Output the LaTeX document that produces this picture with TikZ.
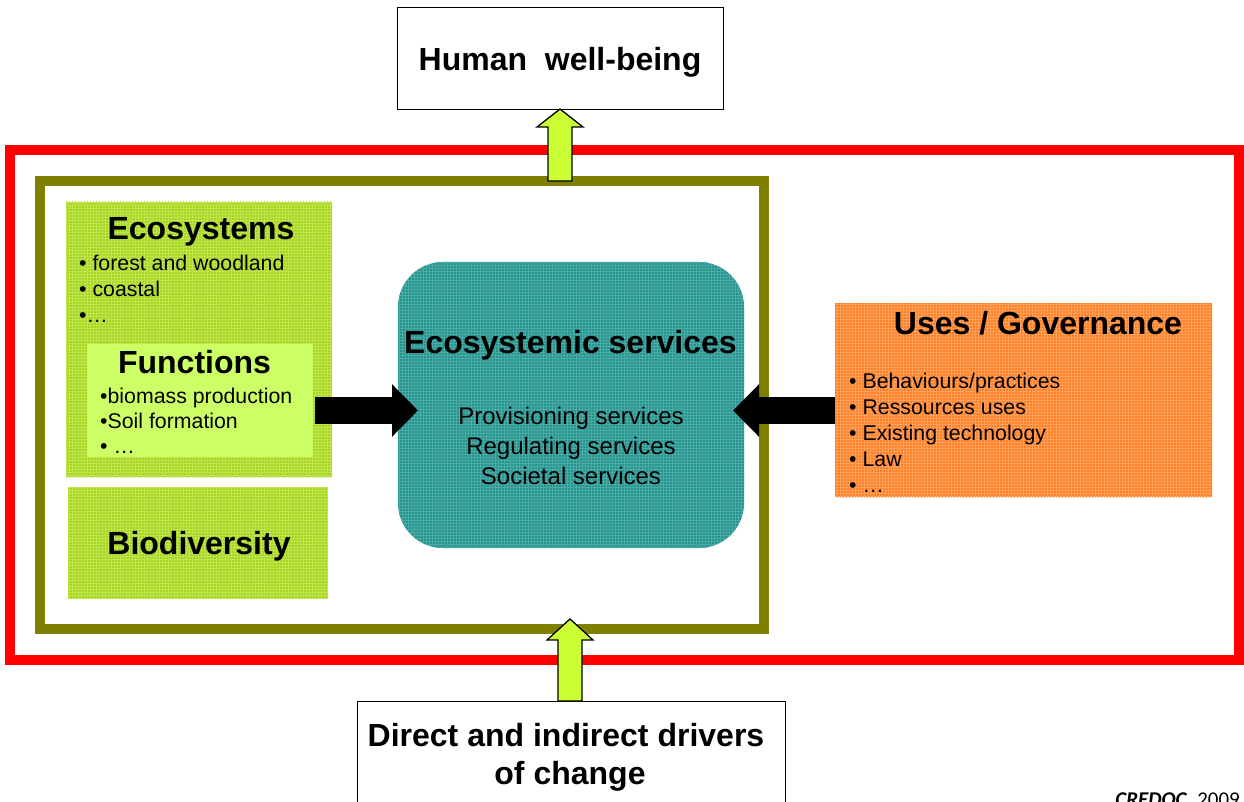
\documentclass[tikz,border=0pt]{standalone}
\usepackage{fontspec}
\setmainfont{Liberation Sans}
\newfontfamily\credfont{Carlito}
\usetikzlibrary{arrows.meta,calc,patterns}
\definecolor{frameolive}{RGB}{128,128,0}
\definecolor{framered}{RGB}{255,0,0}
\definecolor{ecogreen}{RGB}{168,214,30}
\definecolor{ecogreenl}{RGB}{190,228,80}
\definecolor{funcgreen}{RGB}{204,255,102}
\definecolor{servteal}{RGB}{36,148,143}
\definecolor{servteall}{RGB}{75,170,165}
\definecolor{useorange}{RGB}{255,128,36}
\definecolor{useorangel}{RGB}{255,160,90}
\definecolor{arrowgreen}{RGB}{204,255,51}
\tikzset{
  frame/.style={rectangle, inner sep=0pt, outer sep=0pt},
  box/.style={rectangle, inner sep=0pt, outer sep=0pt},
  hd/.style={font=\bfseries\fontsize{32}{38}\selectfont, inner sep=0pt, anchor=base},
  bl/.style={font=\fontsize{21.3}{25.6}\selectfont, inner sep=0pt, anchor=base west},
  md/.style={font=\fontsize{24}{29}\selectfont, inner sep=0pt, anchor=base},
  blk/.style={draw=black, line width=27pt, -{Triangle[length=26pt,width=51pt]}},
  garrow/.style={fill=arrowgreen, draw=black, line width=1.3pt, line join=miter},
}
\begin{document}
\begin{tikzpicture}[x=1pt,y=-1pt]
\useasboundingbox (0,0) rectangle (1244,802);
\clip (0,0) rectangle (1244,802);
\fill[white] (0,0) rectangle (1244,802);

% frames
\node[frame, draw=framered, line width=10pt, minimum width=1229pt, minimum height=510pt] (red) at (624.5,405) {};
\node[frame, draw=frameolive, line width=10pt, minimum width=724pt, minimum height=448pt] (olive) at (402,405) {};

% top and bottom boxes
\node[box, draw=black, fill=white, line width=1pt, minimum width=326pt, minimum height=102pt] (hwb) at (560,59) {};
\node[box, draw=black, fill=white, line width=1pt, minimum width=428pt, minimum height=130pt, anchor=north] (drivers) at (571,701) {};

% inner boxes
\node[box, fill=ecogreen, postaction={pattern=grid, pattern color=ecogreenl}, minimum width=266pt, minimum height=275pt] (eco) at (199,339.5) {};
\node[box, fill=funcgreen, minimum width=226pt, minimum height=113pt] (funcs) at (200,400.5) {};
\node[box, fill=ecogreen, postaction={pattern=grid, pattern color=ecogreenl}, minimum width=260pt, minimum height=111pt] (bio) at (198,542.5) {};
\node[box, fill=servteal, postaction={pattern=grid, pattern color=servteall}, rounded corners=45pt, minimum width=346pt, minimum height=286pt] (eserv) at (571,405) {};
\node[box, fill=useorange, postaction={pattern=grid, pattern color=useorangel}, minimum width=377pt, minimum height=194pt] (uses) at (1023.5,400) {};

% texts
\node[hd] (t-hwb) at (560,71) {Human~~well-being};
\node[hd] (t-eco) at (201,240) {Ecosystems};
\node[bl] (t-eco1) at (79,270) {• forest and woodland};
\node[bl] (t-eco2) at (79,296) {• coastal};
\node[bl] (t-eco3) at (79,322) {•…};
\node[hd] (t-func) at (194.5,373) {Functions};
\node[bl] (t-func1) at (100,403) {•biomass production};
\node[bl] (t-func2) at (100,428) {•Soil formation};
\node[bl] (t-func3) at (100,453) {• …};
\node[hd] (t-bio) at (199,554) {Biodiversity};
\node[hd] (t-serv) at (570.5,353) {Ecosystemic services};
\node[md] (t-serv1) at (571,424) {Provisioning services};
\node[md] (t-serv2) at (571,454) {Regulating services};
\node[md] (t-serv3) at (571,484) {Societal services};
\node[hd] (t-uses) at (1038,334) {Uses / Governance};
\node[bl] (t-uses1) at (849,388) {• Behaviours/practices};
\node[bl] (t-uses2) at (849,414) {• Ressources uses};
\node[bl] (t-uses3) at (849,440) {• Existing technology};
\node[bl] (t-uses4) at (849,466) {• Law};
\node[bl] (t-uses5) at (849,492) {• …};
\node[hd] (t-drv1) at (566,746) {Direct and indirect drivers};
\node[hd] (t-drv2) at (570,784) {of change};
\node[font=\credfont\fontsize{21}{25}\selectfont, inner sep=0pt, anchor=base east] (credit) at (1240,806) {\textbf{\textit{CREDOC}}, 2009};

% black arrows
\coordinate (ay) at (0,410.5);
\draw[blk] ($(funcs.east |- ay)+(2,0)$) -- ($(eserv.west |- ay)+(20,0)$);
\draw[blk] (uses.west |- ay) -- ($(eserv.east |- ay)+(-11,0)$);

% green arrows
\coordinate (ttip) at ($(hwb.south)+(0,-1)$);
\coordinate (tbase) at (hwb.south |- olive.north);
\draw[garrow] (ttip) -- ($(ttip)+(23,18)$) -- ($(ttip)+(12,18)$) -- ($(tbase)+(12,0)$) -- ($(tbase)+(-12,0)$) -- ($(ttip)+(-12,18)$) -- ($(ttip)+(-23,18)$) -- cycle;
\coordinate (btip) at ($(drivers.north |- olive.south)+(-1,-10)$);
\coordinate (bbase) at ($(drivers.north)+(-1,0)$);
\draw[garrow] (btip) -- ($(btip)+(23,21)$) -- ($(btip)+(12,21)$) -- ($(bbase)+(12,0)$) -- ($(bbase)+(-12,0)$) -- ($(btip)+(-12,21)$) -- ($(btip)+(-23,21)$) -- cycle;
\end{tikzpicture}
\end{document}
